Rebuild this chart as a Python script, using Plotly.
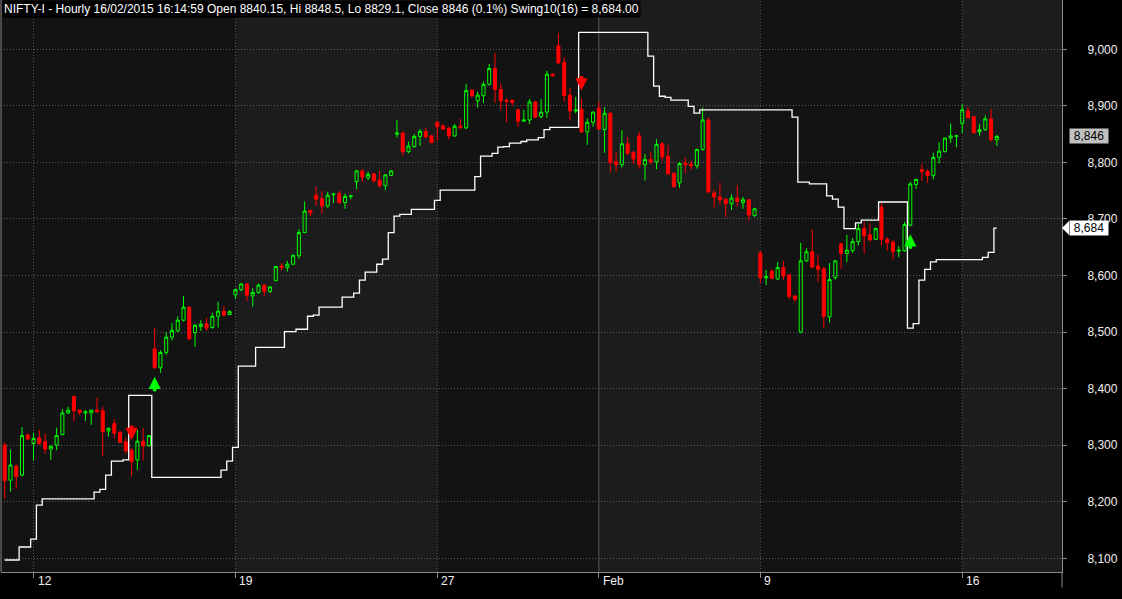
import plotly.graph_objects as go

# ---------------- data (hourly bars, index 0 = first bar of 12 Jan) ----------------
bar_index = list(range(-5, 168))

opens = [
    8300, 8238, 8263, 8247, 8318,
    8303, 8313, 8306, 8293, 8300, 8319, 8357,
    8386, 8362, 8357, 8357, 8362, 8361, 8325,
    8338, 8323, 8306, 8291, 8274, 8307, 8299,
    8470, 8437, 8464, 8491, 8502, 8521, 8544,
    8499, 8510, 8515, 8508, 8528, 8537, 8531,
    8566, 8575, 8585, 8564, 8570, 8583, 8572,
    8591, 8617, 8614, 8620, 8635, 8676, 8715,
    8742, 8736, 8723, 8743, 8745, 8729, 8740,
    8766, 8785, 8773, 8780, 8769, 8759, 8777,
    8850, 8852, 8819, 8828, 8846, 8855, 8847,
    8871, 8865, 8861, 8847, 8864, 8861, 8928,
    8909, 8918, 8938, 8966, 8929, 8910, 8910,
    8893, 8873, 8875, 8907, 8881, 8889, 8956,
    9006, 8977, 8919, 8891, 8894, 8854, 8871,
    8896, 8858, 8887, 8801, 8796, 8833, 8818,
    8847, 8796, 8805, 8801, 8833, 8811, 8781,
    8764, 8799, 8797, 8794, 8823, 8875, 8746,
    8739, 8735, 8727, 8737, 8729, 8734, 8706,
    8640, 8596, 8608, 8594, 8614, 8601, 8564,
    8500, 8626, 8642, 8617, 8612, 8527, 8596,
    8656, 8639, 8644, 8660, 8683, 8672, 8664,
    8721, 8664, 8659, 8643, 8644, 8689, 8761,
    8787, 8784, 8777, 8809, 8819, 8843, 8846,
    8869, 8891, 8881, 8854, 8858, 8877, 8840.15,
]
highs = [
    8305, 8292, 8266, 8332, 8321,
    8322, 8327, 8321, 8300, 8331, 8364, 8368,
    8388, 8363, 8362, 8362, 8384, 8368, 8331,
    8346, 8325, 8313, 8295, 8327, 8330, 8318,
    8507, 8468, 8500, 8516, 8528, 8564, 8546,
    8514, 8521, 8525, 8534, 8554, 8546, 8539,
    8577, 8587, 8587, 8578, 8586, 8585, 8581,
    8617, 8622, 8626, 8637, 8682, 8731, 8716,
    8758, 8750, 8748, 8745, 8750, 8745, 8742,
    8787, 8788, 8784, 8781, 8785, 8779, 8786,
    8875, 8854, 8837, 8850, 8859, 8861, 8848,
    8873, 8867, 8862, 8868, 8877, 8939, 8929,
    8925, 8943, 8974, 8994, 8939, 8913, 8911,
    8895, 8893, 8912, 8909, 8912, 8962, 8957,
    9028, 8986, 8932, 8916, 8913, 8878, 8890,
    8908, 8898, 8889, 8818, 8857, 8845, 8820,
    8854, 8815, 8818, 8841, 8835, 8831, 8782,
    8801, 8808, 8803, 8824, 8897, 8879, 8751,
    8764, 8736, 8744, 8760, 8739, 8735, 8720,
    8643, 8610, 8611, 8624, 8626, 8602, 8565,
    8658, 8648, 8682, 8637, 8615, 8622, 8627,
    8658, 8672, 8666, 8692, 8695, 8692, 8685,
    8728, 8668, 8663, 8652, 8695, 8766, 8771,
    8797, 8788, 8817, 8836, 8844, 8869, 8848,
    8903, 8898, 8882, 8868, 8883, 8895, 8848.5,
]
lows = [
    8206, 8218, 8223, 8245, 8309,
    8273, 8300, 8285, 8274, 8291, 8317, 8355,
    8343, 8353, 8343, 8336, 8358, 8280, 8315,
    8312, 8304, 8285, 8245, 8256, 8273, 8297,
    8435, 8428, 8460, 8485, 8500, 8519, 8486,
    8474, 8502, 8502, 8506, 8508, 8528, 8530,
    8559, 8572, 8555, 8545, 8568, 8563, 8569,
    8590, 8609, 8607, 8619, 8630, 8675, 8705,
    8723, 8709, 8720, 8728, 8727, 8718, 8735,
    8753, 8766, 8769, 8764, 8755, 8751, 8776,
    8844, 8812, 8816, 8826, 8829, 8843, 8834,
    8838, 8857, 8841, 8845, 8860, 8859, 8914,
    8897, 8905, 8936, 8905, 8893, 8871, 8900,
    8863, 8872, 8868, 8878, 8878, 8879, 8952,
    8974, 8907, 8874, 8887, 8852, 8831, 8863,
    8857, 8817, 8782, 8784, 8791, 8813, 8797,
    8789, 8768, 8796, 8788, 8803, 8778, 8756,
    8755, 8780, 8787, 8789, 8821, 8745, 8720,
    8725, 8703, 8716, 8722, 8718, 8697, 8704,
    8586, 8583, 8593, 8592, 8592, 8558, 8553,
    8498, 8624, 8613, 8589, 8508, 8517, 8593,
    8612, 8624, 8640, 8653, 8639, 8660, 8663,
    8653, 8644, 8628, 8632, 8642, 8687, 8753,
    8767, 8764, 8770, 8798, 8818, 8835, 8827,
    8852, 8878, 8850, 8847, 8856, 8837, 8829.1,
]
closes = [
    8237, 8265, 8244, 8317, 8311,
    8312, 8303, 8293, 8298, 8317, 8357, 8362,
    8361, 8358, 8359, 8362, 8359, 8324, 8330,
    8321, 8305, 8290, 8271, 8307, 8299, 8317,
    8437, 8464, 8491, 8503, 8521, 8544, 8488,
    8512, 8514, 8507, 8528, 8537, 8530, 8536,
    8575, 8585, 8565, 8570, 8583, 8572, 8580,
    8616, 8614, 8620, 8636, 8676, 8714, 8711,
    8735, 8723, 8742, 8744, 8729, 8740, 8741,
    8785, 8774, 8779, 8768, 8759, 8778, 8785,
    8852, 8819, 8829, 8846, 8855, 8845, 8835,
    8863, 8859, 8847, 8864, 8861, 8927, 8918,
    8919, 8938, 8966, 8929, 8909, 8908, 8906,
    8873, 8875, 8907, 8880, 8889, 8956, 8953,
    8976, 8918, 8891, 8893, 8854, 8871, 8889,
    8859, 8887, 8800, 8796, 8833, 8816, 8806,
    8796, 8805, 8801, 8832, 8810, 8780, 8757,
    8798, 8796, 8794, 8823, 8875, 8748, 8739,
    8734, 8727, 8737, 8731, 8734, 8707, 8718,
    8596, 8598, 8595, 8614, 8599, 8563, 8558,
    8626, 8642, 8615, 8611, 8528, 8593, 8626,
    8639, 8645, 8660, 8683, 8670, 8663, 8683,
    8664, 8658, 8642, 8645, 8690, 8762, 8770,
    8784, 8777, 8809, 8820, 8843, 8847, 8847,
    8893, 8879, 8853, 8858, 8877, 8840, 8846,
]
swing = [
    8097, 8097, 8097, 8120, 8120,
    8134, 8194, 8205, 8205, 8205, 8205, 8205,
    8205, 8205, 8205, 8205, 8217, 8222, 8247,
    8272, 8272, 8274, 8388, 8388, 8388, 8388,
    8243, 8243, 8243, 8243, 8243, 8243, 8243,
    8243, 8243, 8243, 8243, 8243, 8256, 8272,
    8296, 8440, 8440, 8440, 8473, 8473, 8473,
    8473, 8473, 8501, 8501, 8505, 8505, 8528,
    8530, 8544, 8544, 8544, 8544, 8562, 8562,
    8569, 8592, 8606, 8606, 8620, 8629, 8676,
    8705, 8708, 8708, 8717, 8717, 8717, 8717,
    8733, 8751, 8751, 8751, 8751, 8751, 8751,
    8775, 8811, 8811, 8816, 8827, 8828, 8834,
    8834, 8837, 8840, 8840, 8844, 8858, 8862,
    8862, 8862, 8862, 8862, 9030, 9030, 9030,
    9030, 9030, 9030, 9030, 9030, 9030, 9030,
    9030, 9030, 8988, 8935, 8917, 8915, 8910,
    8910, 8910, 8899, 8887, 8893, 8893, 8893,
    8893, 8893, 8893, 8893, 8893, 8893, 8893,
    8893, 8893, 8893, 8893, 8893, 8893, 8880,
    8765, 8765, 8762, 8762, 8762, 8741, 8735,
    8721, 8683, 8683, 8693, 8698, 8698, 8698,
    8730, 8730, 8730, 8730, 8730, 8507, 8515,
    8592, 8611, 8624, 8628, 8628, 8628, 8628,
    8628, 8628, 8628, 8628, 8632, 8641, 8684,
]

week_ticks = [0, 35, 70, 98, 126, 161]
week_labels = ["12", "19", "27", "Feb", "9", "16"]
shaded_weeks = [(35, 70), (98, 126), (161, None)]
price_ticks = [8100, 8200, 8300, 8400, 8500, 8600, 8700, 8800, 8900, 9000]
buy_bars = [21, 152]
sell_bars = [17, 95]

title_text = ("NIFTY-I - Hourly 16/02/2015 16:14:59 Open 8840.15, Hi 8848.5, "
              "Lo 8829.1, Close 8846 (0.1%) Swing10(16) = 8,684.00")

# ---------------- styling ----------------
X_RANGE = [-5.64, 178.3]
Y_RANGE = [8075.8, 9087.2]
FONT = "Liberation Sans, Arial, sans-serif"
GREEN = "#00ff00"
RED = "#ff0000"
GRID = "#5a5a5a"
AXIS = "#8a8a8a"
TXT = "#f0f0f0"

fig = go.Figure()

fig.add_trace(go.Candlestick(
    x=bar_index, open=opens, high=highs, low=lows, close=closes,
    increasing=dict(line=dict(color=GREEN, width=1), fillcolor="rgba(0,0,0,0)"),
    decreasing=dict(line=dict(color=RED, width=1), fillcolor=RED),
    whiskerwidth=0, hoverinfo="skip", showlegend=False,
))

fig.add_trace(go.Scatter(
    x=bar_index, y=swing, mode="lines",
    line=dict(color="white", width=1.3, shape="hvh"),
    hoverinfo="skip", showlegend=False,
))

shapes = []
for x0, x1 in shaded_weeks:
    shapes.append(dict(type="rect", xref="x", yref="paper",
                       x0=x0, x1=(X_RANGE[1] if x1 is None else x1), y0=0, y1=1,
                       fillcolor="#1c1c1c", line=dict(width=0), layer="below"))
for t, lab in zip(week_ticks, week_labels):
    solid = not lab.isdigit()
    shapes.append(dict(type="line", xref="x", yref="paper", x0=t, x1=t, y0=0, y1=1,
                       line=dict(color="#555555" if solid else GRID, width=1,
                                 dash="solid" if solid else "1px,2px"),
                       layer="below"))
# frame lines
shapes.append(dict(type="line", xref="paper", yref="paper", x0=0, x1=0, y0=0, y1=1,
                   line=dict(color=AXIS, width=1)))
shapes.append(dict(type="line", xref="paper", yref="paper", x0=1, x1=1, y0=-0.027, y1=0,
                   line=dict(color=AXIS, width=1)))
# pointer of the swing value label
shapes.append(dict(type="path", xref="paper", yref="y", xsizemode="pixel", ysizemode="pixel",
                   xanchor=1, yanchor=swing[-1], path="M0,0 L7,7 L7,-7 Z",
                   fillcolor="white", line=dict(width=0)))

annotations = []
annotations.append(dict(xref="paper", yref="paper", x=0, y=1, xanchor="left", yanchor="top",
                        text=title_text, showarrow=False, bgcolor="black", borderpad=1,
                        xshift=1, font=dict(family=FONT, size=12, color="white")))
for t, lab in zip(week_ticks, week_labels):
    annotations.append(dict(xref="x", yref="paper", x=t, y=0, xanchor="left", yanchor="top",
                            text=lab, showarrow=False, xshift=2, yshift=0,
                            font=dict(family=FONT, size=12, color=TXT)))
annotations.append(dict(xref="paper", yref="y", x=1, y=closes[-1], xanchor="left", yanchor="middle",
                        text=f"{closes[-1]:,.0f}", showarrow=False, bgcolor="#c0c0c0", borderpad=0,
                        xshift=7, font=dict(family=FONT, size=12, color="black"), width=38))
annotations.append(dict(xref="paper", yref="y", x=1, y=swing[-1], xanchor="left", yanchor="middle",
                        text=f"{swing[-1]:,.0f}", showarrow=False, bgcolor="white", borderpad=0,
                        xshift=7, font=dict(family=FONT, size=12, color="black"), width=38))
for b in buy_bars:
    i = bar_index.index(b)
    annotations.append(dict(x=b, y=lows[i], xref="x", yref="y", text="", showarrow=True,
                            ax=0, ay=24, standoff=8, arrowhead=2, arrowsize=0.7,
                            arrowwidth=3.5, arrowcolor=GREEN))
for s in sell_bars:
    i = bar_index.index(s)
    annotations.append(dict(x=s, y=highs[i], xref="x", yref="y", text="", showarrow=True,
                            ax=0, ay=-24, standoff=8, arrowhead=2, arrowsize=0.7,
                            arrowwidth=3.5, arrowcolor=RED))

fig.update_layout(
    width=1122, height=599,
    margin=dict(l=1, r=60, t=0, b=27),
    paper_bgcolor="black", plot_bgcolor="#131313",
    showlegend=False,
    shapes=shapes, annotations=annotations,
    boxgap=0.25,
    xaxis=dict(range=X_RANGE, rangeslider=dict(visible=False), showgrid=False, zeroline=False,
               tickvals=week_ticks, showticklabels=False, ticks="outside", ticklen=5,
               tickcolor=AXIS, showline=True, linecolor=AXIS, linewidth=1),
    yaxis=dict(range=Y_RANGE, side="right", tickvals=price_ticks, tickformat=",",
               showgrid=True, gridcolor=GRID, griddash="1px,2px", gridwidth=1, zeroline=False,
               ticks="outside", ticklen=4, tickcolor=AXIS, showline=True, linecolor=AXIS,
               linewidth=1, ticklabelstandoff=18,
               tickfont=dict(family=FONT, size=12, color=TXT)),
)

fig.write_html("out.html", config={"displayModeBar": False},
               post_script="document.body.style.margin='0';")
